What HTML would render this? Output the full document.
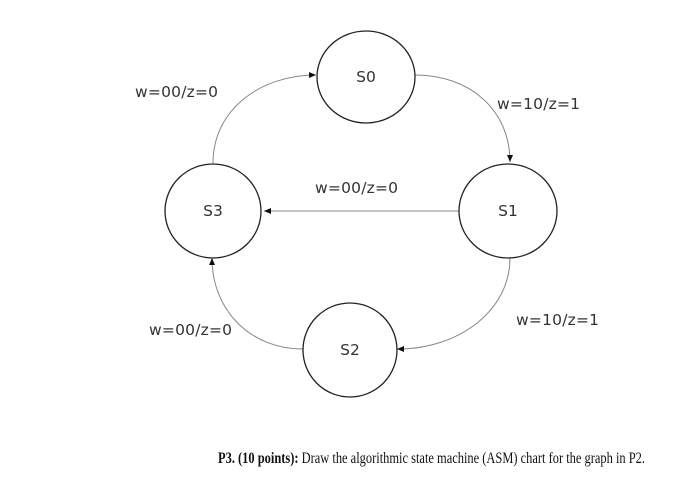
<!DOCTYPE html>
<html><head><style>
body{margin:0;background:#fff;width:700px;height:486px;overflow:hidden}
svg{display:block}
.l{font-family:"DejaVu Sans","Liberation Sans",sans-serif;font-size:15.5px;fill:#333}
</style></head><body>
<svg width="700" height="486" viewBox="0 0 700 486">
<defs><marker id="a" markerWidth="8" markerHeight="8" refX="7" refY="4" orient="auto" markerUnits="userSpaceOnUse"><path d="M0,1 L7,4 L0,7 z" fill="#111"/></marker></defs>
<g fill="none" stroke="#888" stroke-width="1">
<path d="M213,163 C213,110 260,75 316,75" marker-end="url(#a)"/>
<path d="M415,75 C470,75 510,110 510,162" marker-end="url(#a)"/>
<path d="M459,211 L264,211" marker-end="url(#a)"/>
<path d="M510,258 C510,310 460,349 397,349" marker-end="url(#a)"/>
<path d="M303,349 C250,349 212,310 212,258" marker-end="url(#a)"/>
</g>
<g fill="#fff" stroke="#222" stroke-width="1.3">
<ellipse cx="366" cy="77" rx="49" ry="46"/>
<ellipse cx="213" cy="211" rx="48" ry="47"/>
<ellipse cx="508" cy="211" rx="49" ry="47"/>
<ellipse cx="350" cy="350" rx="47" ry="47"/>
</g>
<g class="l">
<text x="366" y="82" text-anchor="middle">S0</text>
<text x="213" y="216" text-anchor="middle">S3</text>
<text x="508" y="216" text-anchor="middle">S1</text>
<text x="350" y="355" text-anchor="middle">S2</text>
<text x="135" y="97" textLength="83">w=00/z=0</text>
<text x="497" y="109" textLength="83">w=10/z=1</text>
<text x="315" y="193" textLength="83">w=00/z=0</text>
<text x="149" y="335" textLength="83">w=00/z=0</text>
<text x="516" y="325" textLength="83">w=10/z=1</text>
</g>
<text x="218" y="463" font-family="Liberation Serif,serif" font-size="16" fill="#111" textLength="427" lengthAdjust="spacingAndGlyphs"><tspan font-weight="bold">P3. (10 points):</tspan> Draw the algorithmic state machine (ASM) chart for the graph in P2.</text>
</svg>
</body></html>
